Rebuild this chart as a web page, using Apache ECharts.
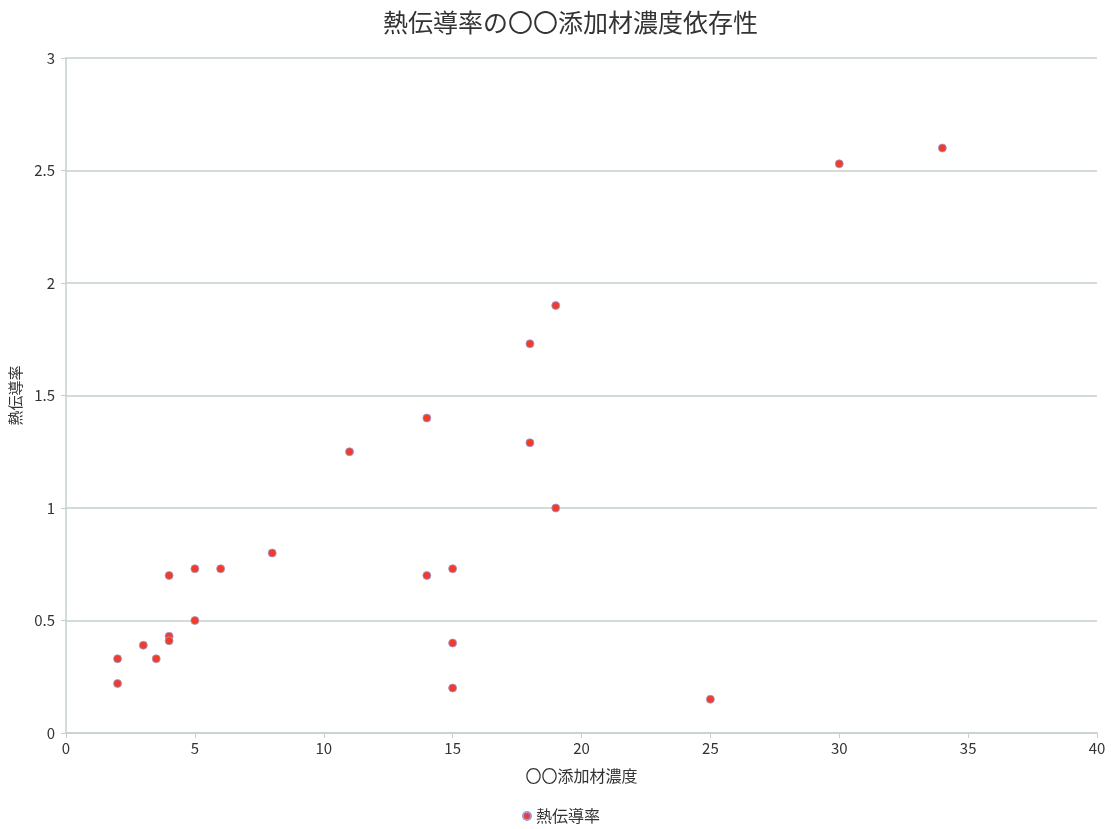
<!DOCTYPE html>
<html><head><meta charset="utf-8">
<script src="https://cdn.jsdelivr.net/npm/echarts@6/dist/echarts.min.js"></script>
<style>html,body{margin:0;padding:0;background:#fff}#c{width:1111px;height:829px}</style>
</head><body><div id="c"></div>
<script>
const titleText = '熱伝導率の〇〇添加材濃度依存性';
const xName = '〇〇添加材濃度';
const yName = '熱伝導率';
const seriesName = '熱伝導率';
const xValues = [2, 2, 3, 3.5, 4, 4, 4, 5, 5, 6, 8, 11, 14, 14, 15, 15, 15, 18, 18, 19, 19, 25, 30, 34];
const yValues = [0.33, 0.22, 0.39, 0.33, 0.70, 0.43, 0.41, 0.73, 0.50, 0.73, 0.80, 1.25, 1.40, 0.70, 0.73, 0.40, 0.20, 1.73, 1.29, 1.90, 1.00, 0.15, 2.53, 2.60];
const points = xValues.map((x, i) => [x, yValues[i]]);
const font = '"Noto Sans CJK JP", "Noto Sans", sans-serif';
const chart = echarts.init(document.getElementById('c'));
chart.setOption({
  animation: false,
  title: { text: titleText, left: 378, top: 5, textStyle: { fontFamily: font, fontSize: 25, fontWeight: 'normal', color: '#333' } },
  grid: { left: 66, right: 14, top: 58, bottom: 96, containLabel: false, outerBoundsMode: 'none' },
  xAxis: {
    type: 'value', min: 0, max: 40, interval: 5,
    name: xName, nameLocation: 'middle', nameGap: 35,
    nameTextStyle: { fontFamily: font, fontSize: 16, color: '#333' },
    axisLine: { show: true, lineStyle: { color: '#c6cfcf', width: 1.5 } },
    axisTick: { show: true, length: 5, lineStyle: { color: '#c6cfcf' } },
    axisLabel: { fontFamily: font, fontSize: 15, color: '#333', margin: 8 },
    splitLine: { show: false }
  },
  yAxis: {
    type: 'value', min: 0, max: 3, interval: 0.5,
    name: yName, nameLocation: 'middle', nameGap: 41, nameRotate: 90,
    nameTextStyle: { fontFamily: font, fontSize: 15, color: '#333' },
    axisLine: { show: true, lineStyle: { color: '#c6cfcf', width: 1.5 } },
    axisTick: { show: true, length: 5, lineStyle: { color: '#c6cfcf' } },
    axisLabel: { fontFamily: font, fontSize: 15, color: '#333', margin: 11 },
    splitLine: { show: true, lineStyle: { color: '#c6cfcf', width: 1.5 } }
  },
  legend: {
    bottom: 0, left: 517, icon: 'circle', itemWidth: 8, itemHeight: 8, itemGap: 4,
    textStyle: { fontFamily: font, fontSize: 16, color: '#333' },
    data: [seriesName]
  },
  series: [{
    name: seriesName, type: 'scatter', data: points, symbolSize: 8,
    itemStyle: { color: '#ef3d2c', borderColor: '#9a9adc', borderWidth: 0.8, opacity: 1 }
  }]
});
</script></body></html>
